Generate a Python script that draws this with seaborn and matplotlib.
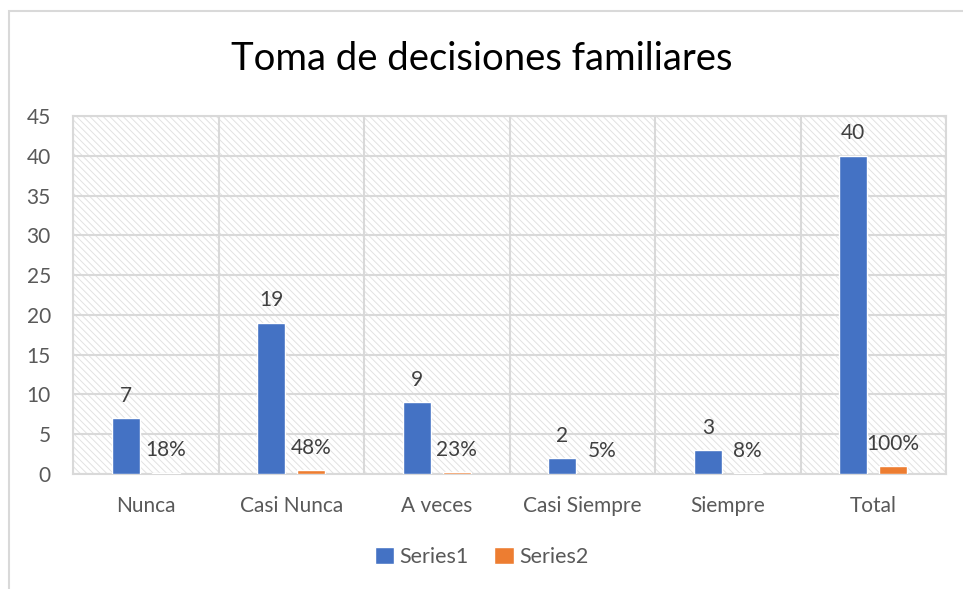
import matplotlib
matplotlib.use("Agg")
import matplotlib.pyplot as plt
from matplotlib.patches import Rectangle, Patch
import seaborn as sns
import pandas as pd

categories = ["Nunca", "Casi Nunca", "A veces", "Casi Siempre", "Siempre", "Total"]
series1 = [7, 19, 9, 2, 3, 40]
series2 = [0.18, 0.48, 0.23, 0.05, 0.08, 1.00]
series_names = ["Series1", "Series2"]
title = "Toma de decisiones familiares"

BLUE = "#4472C4"
ORANGE = "#ED7D31"
GRID = "#D9D9D9"
TXT = "#595959"

sns.set_theme(style="white")
plt.rcParams["font.family"] = ["Lato", "DejaVu Sans"]
plt.rcParams["hatch.linewidth"] = 0.7

df = pd.DataFrame({
    "cat": categories * 2,
    "series": [series_names[0]] * len(categories) + [series_names[1]] * len(categories),
    "value": series1 + series2,
})

fig = plt.figure(figsize=(9.63, 5.89), dpi=100)
ax = fig.add_axes([73 / 963, 1 - 474 / 589, (946 - 73) / 963, (474 - 116) / 589])

# hatched plot-area background
ax.add_patch(Rectangle((0, 0), 1, 1, transform=ax.transAxes, facecolor="white",
                       edgecolor="#E2E2E2", hatch="\\\\\\\\\\", lw=0, zorder=0))

sns.barplot(data=df, x="cat", y="value", hue="series", palette=[BLUE, ORANGE],
            width=0.55, gap=0.3, ax=ax, legend=False, zorder=3, saturation=1)

ax.bar_label(ax.containers[0], labels=[str(v) for v in series1], padding=9,
             fontsize=15, color="#404040")
ax.bar_label(ax.containers[1], labels=[f"{round(v*100)}%" for v in series2], padding=9,
             fontsize=15, color="#404040")

ax.set_ylim(0, 45)
ax.set_xlim(-0.5, len(categories) - 0.5)
ax.set_yticks(range(0, 46, 5))
ax.set_xticks(range(len(categories)))
ax.set_xticks([i - 0.5 for i in range(len(categories) + 1)], minor=True)
ax.grid(axis="y", which="major", color=GRID, lw=1.5, zorder=1)
ax.grid(axis="x", which="minor", color=GRID, lw=1.5, zorder=1)
ax.grid(axis="x", which="major", visible=False)
ax.set_axisbelow(True)
ax.tick_params(axis="both", which="both", length=0)
ax.tick_params(axis="y", pad=16, labelsize=15, labelcolor=TXT)
ax.tick_params(axis="x", pad=16, labelsize=15, labelcolor=TXT)
ax.set_xlabel("")
ax.set_ylabel("")
for s in ax.spines.values():
    s.set_color(GRID)
    s.set_linewidth(1.5)

fig.text(0.5, 1 - 59 / 589, title, ha="center", va="center", fontsize=27.5, color="black")

handles = [Patch(facecolor=BLUE), Patch(facecolor=ORANGE)]
fig.legend(handles, series_names, loc="center", bbox_to_anchor=(0.5, 1 - 557 / 589),
           ncol=2, frameon=False, fontsize=15.5, handlelength=0.9, handleheight=0.8,
           handletextpad=0.25, columnspacing=1.2, labelcolor=TXT)

fig.patches.append(Rectangle((9 / 963, -0.2), 2, 1 - 11 / 589 + 0.2,
                             transform=fig.transFigure, fill=False,
                             edgecolor=GRID, lw=1.5))

fig.savefig("out.png", dpi=100)
